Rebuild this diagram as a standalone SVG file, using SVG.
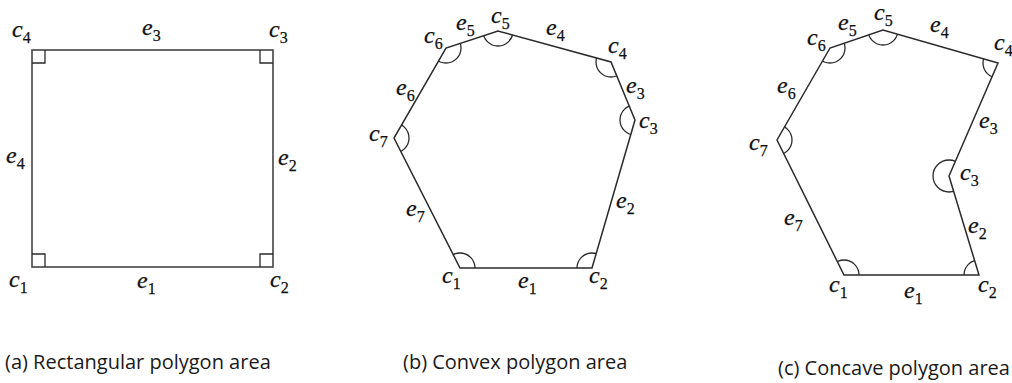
<svg xmlns="http://www.w3.org/2000/svg" width="1012" height="383" viewBox="0 0 1012 383">
<style>
  .edge{fill:none;stroke:#2a2a2a;stroke-width:1.5;stroke-linejoin:miter}
  .rect{fill:none;stroke:#444;stroke-width:1.6}
  .mark{fill:none;stroke:#2a2a2a;stroke-width:1.3}
  .lbl{font-family:"Liberation Serif",serif;font-style:italic;font-size:24px;fill:#111;stroke:#111;stroke-width:0.25}
  .sub{font-style:normal;font-size:16px}
  .cap{font-family:"Open Sans",sans-serif;font-size:20px;fill:#1a1a1a}
</style>
<defs>
  <clipPath id="clipB"><polygon points="460,268 592,268 635,120 611,62 498,31 446,48 394,138"/></clipPath>
  <clipPath id="clipC"><polygon points="844,275 979,275 949,176 998,63 883,30 830,48 777,140"/></clipPath>
</defs>

<g id="rectangular">
  <rect class="rect" x="32" y="50" width="241" height="217"/>
  <path class="mark" d="M32,63 H45 V50 M260,50 V63 H273 M32,254 H45 V267 M260,267 V254 H273"/>
  <text class="lbl" x="12" y="37">c<tspan class="sub" dy="6">4</tspan></text>
  <text class="lbl" x="142" y="35">e<tspan class="sub" dy="6">3</tspan></text>
  <text class="lbl" x="269" y="37">c<tspan class="sub" dy="6">3</tspan></text>
  <text class="lbl" x="6" y="163">e<tspan class="sub" dy="6">4</tspan></text>
  <text class="lbl" x="278" y="165">e<tspan class="sub" dy="6">2</tspan></text>
  <text class="lbl" x="9" y="287">c<tspan class="sub" dy="6">1</tspan></text>
  <text class="lbl" x="137" y="288">e<tspan class="sub" dy="6">1</tspan></text>
  <text class="lbl" x="270" y="287">c<tspan class="sub" dy="6">2</tspan></text>
  <text class="cap" x="5" y="369">(a) Rectangular polygon area</text>
</g>

<g id="convex">
  <polygon class="edge" points="460,268 592,268 635,120 611,62 498,31 446,48 394,138"/>
  <g clip-path="url(#clipB)" class="mark">
    <circle cx="460" cy="268" r="15"/>
    <circle cx="592" cy="268" r="15"/>
    <circle cx="635" cy="120" r="15"/>
    <circle cx="611" cy="62" r="15"/>
    <circle cx="498" cy="31" r="15"/>
    <circle cx="446" cy="48" r="15"/>
    <circle cx="394" cy="138" r="15"/>
  </g>
  <text class="lbl" x="442" y="283">c<tspan class="sub" dy="6">1</tspan></text>
  <text class="lbl" x="518" y="288">e<tspan class="sub" dy="6">1</tspan></text>
  <text class="lbl" x="589" y="283">c<tspan class="sub" dy="6">2</tspan></text>
  <text class="lbl" x="616" y="208">e<tspan class="sub" dy="6">2</tspan></text>
  <text class="lbl" x="639" y="128">c<tspan class="sub" dy="6">3</tspan></text>
  <text class="lbl" x="626" y="93">e<tspan class="sub" dy="6">3</tspan></text>
  <text class="lbl" x="608" y="53">c<tspan class="sub" dy="6">4</tspan></text>
  <text class="lbl" x="546" y="35">e<tspan class="sub" dy="6">4</tspan></text>
  <text class="lbl" x="491" y="23">c<tspan class="sub" dy="6">5</tspan></text>
  <text class="lbl" x="456" y="30">e<tspan class="sub" dy="6">5</tspan></text>
  <text class="lbl" x="424" y="43">c<tspan class="sub" dy="6">6</tspan></text>
  <text class="lbl" x="396" y="95">e<tspan class="sub" dy="6">6</tspan></text>
  <text class="lbl" x="369" y="141">c<tspan class="sub" dy="6">7</tspan></text>
  <text class="lbl" x="406" y="216">e<tspan class="sub" dy="6">7</tspan></text>
  <text class="cap" x="403" y="369">(b) Convex polygon area</text>
</g>

<g id="concave">
  <polygon class="edge" points="844,275 979,275 949,176 998,63 883,30 830,48 777,140"/>
  <g clip-path="url(#clipC)" class="mark">
    <circle cx="844" cy="275" r="15"/>
    <circle cx="979" cy="275" r="15"/>
    <circle cx="949" cy="176" r="16"/>
    <circle cx="998" cy="63" r="15"/>
    <circle cx="883" cy="30" r="15"/>
    <circle cx="830" cy="48" r="15"/>
    <circle cx="777" cy="140" r="15"/>
  </g>
  <text class="lbl" x="829" y="292">c<tspan class="sub" dy="6">1</tspan></text>
  <text class="lbl" x="904" y="298">e<tspan class="sub" dy="6">1</tspan></text>
  <text class="lbl" x="978" y="292">c<tspan class="sub" dy="6">2</tspan></text>
  <text class="lbl" x="968" y="233">e<tspan class="sub" dy="6">2</tspan></text>
  <text class="lbl" x="960" y="180">c<tspan class="sub" dy="6">3</tspan></text>
  <text class="lbl" x="979" y="128">e<tspan class="sub" dy="6">3</tspan></text>
  <text class="lbl" x="994" y="50">c<tspan class="sub" dy="6">4</tspan></text>
  <text class="lbl" x="930" y="32">e<tspan class="sub" dy="6">4</tspan></text>
  <text class="lbl" x="874" y="20">c<tspan class="sub" dy="6">5</tspan></text>
  <text class="lbl" x="838" y="30">e<tspan class="sub" dy="6">5</tspan></text>
  <text class="lbl" x="807" y="45">c<tspan class="sub" dy="6">6</tspan></text>
  <text class="lbl" x="777" y="93">e<tspan class="sub" dy="6">6</tspan></text>
  <text class="lbl" x="749" y="150">c<tspan class="sub" dy="6">7</tspan></text>
  <text class="lbl" x="784" y="225">e<tspan class="sub" dy="6">7</tspan></text>
  <text class="cap" x="778" y="375">(c) Concave polygon area</text>
</g>
</svg>
